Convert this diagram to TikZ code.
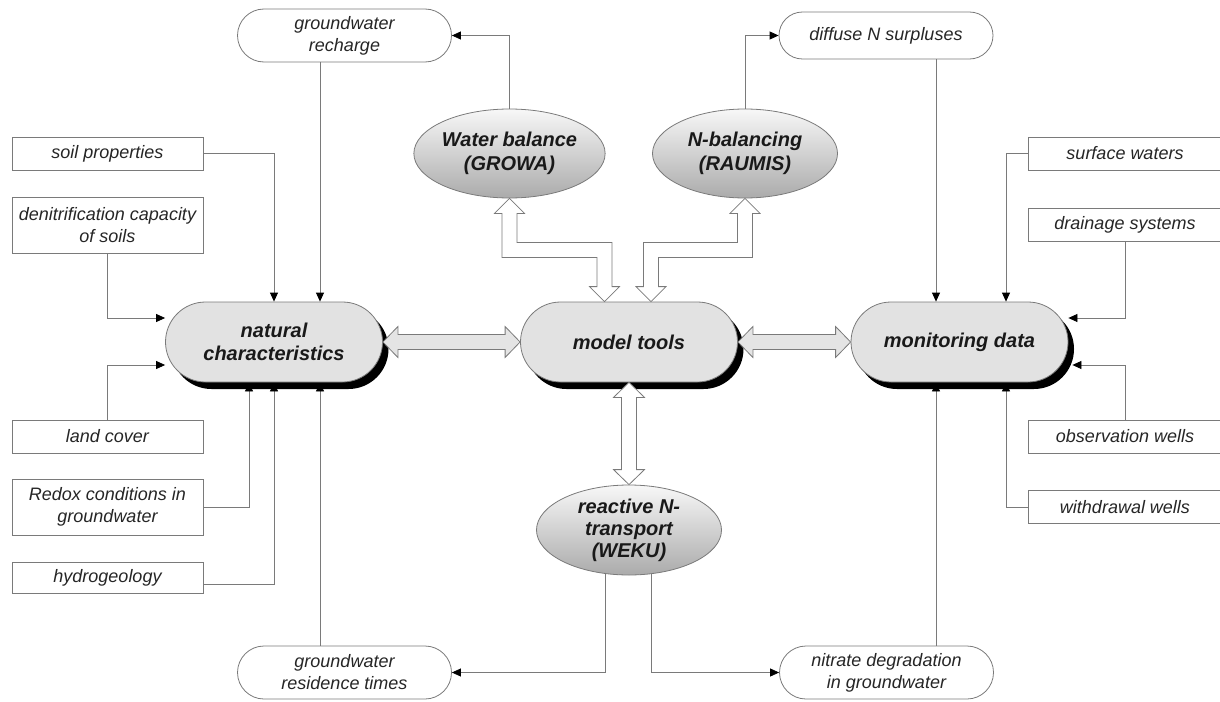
\documentclass[tikz,border=0pt]{standalone}
\usepackage{fontspec}
\setmainfont{Liberation Sans}
\usetikzlibrary{shapes.misc,shapes.geometric,shadows,calc,arrows.meta,backgrounds}

\definecolor{linegray}{HTML}{7A7A7A}
\definecolor{capfill}{HTML}{E2E2E2}
\definecolor{txt}{HTML}{262626}
\definecolor{blockfill}{HTML}{E4E4E4}

\tikzset{
  conn/.style={draw=linegray, line width=0.8pt},
  arr/.style={conn, -{Triangle[length=9pt,width=8pt,black]}},
  boxnode/.style={draw=linegray, line width=0.8pt, fill=white, rectangle, align=center,
    font=\fontsize{18}{22}\selectfont\itshape, text=txt, inner sep=0pt},
  sidebox/.style={boxnode, minimum width=191pt},
  rightbox/.style={boxnode, minimum width=194pt, minimum height=33pt},
  ovalnode/.style={boxnode, rounded rectangle, minimum width=214pt, minimum height=53pt},
  capsule/.style={rounded rectangle, draw=linegray, line width=0.8pt, fill=capfill,
    minimum width=217pt, minimum height=80pt, inner sep=0pt, text=black!90,
    font=\fontsize{20}{23}\selectfont\bfseries\itshape, align=center,
    drop shadow={shadow xshift=6pt, shadow yshift=-7pt, opacity=1, fill=black}},
  ellnode/.style={ellipse, draw=linegray, line width=0.8pt, top color=gray!6, bottom color=gray!66,
    minimum width=185pt, minimum height=89pt, inner sep=0pt, text=black!90,
    font=\fontsize{20}{24}\selectfont\bfseries\itshape, align=center},
  blockarrow/.style={draw=linegray, line width=0.8pt, fill=white, line join=miter},
  hblockarrow/.style={blockarrow, fill=blockfill},
}

% horizontal double block arrow, #1 left tip, #2 right tip
\newcommand\hblock[2]{%
  \filldraw[hblockarrow] let \p1=(#1), \p2=(#2) in
    (\x1,\y1) -- (\x1+15pt,\y1+15.5pt) -- (\x1+15pt,\y1+7.5pt) -- (\x2-15pt,\y1+7.5pt)
    -- (\x2-15pt,\y1+15.5pt) -- (\x2,\y1) -- (\x2-15pt,\y1-15.5pt) -- (\x2-15pt,\y1-7.5pt)
    -- (\x1+15pt,\y1-7.5pt) -- (\x1+15pt,\y1-15.5pt) -- cycle;}
% vertical double block arrow, #1 top tip, #2 bottom tip
\newcommand\vblock[2]{%
  \filldraw[blockarrow] let \p1=(#1), \p2=(#2) in
    (\x1,\y1) -- (\x1+15.5pt,\y1-15pt) -- (\x1+7.5pt,\y1-15pt) -- (\x1+7.5pt,\y2+15pt)
    -- (\x1+15.5pt,\y2+15pt) -- (\x1,\y2) -- (\x1-15.5pt,\y2+15pt) -- (\x1-7.5pt,\y2+15pt)
    -- (\x1-7.5pt,\y1-15pt) -- (\x1-15.5pt,\y1-15pt) -- cycle;}
% bent double block arrow, #1 top tip, #2 bottom tip, #3 sign of the turn (1 or -1)
\newcommand\bentblock[3]{%
  \filldraw[blockarrow] let \p1=(#1), \p2=(#2), \p3=($(#1)!0.5!(#2)$) in
    (\x1,\y1) -- ({\x1+#3*15pt},{\y1-15pt}) -- ({\x1+#3*7.5pt},{\y1-15pt}) -- ({\x1+#3*7.5pt},{\y3+7.5pt})
    -- ({\x2+#3*7.5pt},{\y3+7.5pt}) -- ({\x2+#3*7.5pt},{\y2+15pt}) -- ({\x2+#3*15pt},{\y2+15pt})
    -- (\x2,\y2) -- ({\x2-#3*15pt},{\y2+15pt}) -- ({\x2-#3*7.5pt},{\y2+15pt})
    -- ({\x2-#3*7.5pt},{\y3-7.5pt}) -- ({\x1-#3*7.5pt},{\y3-7.5pt}) -- ({\x1-#3*7.5pt},{\y1-15pt})
    -- ({\x1-#3*15pt},{\y1-15pt}) -- cycle;}

\begin{document}
\begin{tikzpicture}[x=1pt,y=-1pt]
\useasboundingbox (0,0) rectangle (1220,701);

% left input boxes
\node[sidebox, minimum height=33pt] (soil)  at (107.5,153.5) {soil properties};
\node[sidebox, minimum height=56pt] (denit) at (107.5,225)   {denitrification capacity\\of soils};
\node[sidebox, minimum height=33pt] (land)  at (107.5,436.5) {land cover};
\node[sidebox, minimum height=56pt] (redox) at (107.5,507)   {Redox conditions in\\groundwater};
\node[sidebox, minimum height=31pt] (hydro) at (107.5,577.5) {hydrogeology};

% right input boxes (cut by the right edge)
\node[rightbox] (surf)  at (1125,153.5) {surface waters};
\node[rightbox] (drain) at (1125,224.5) {drainage systems};
\node[rightbox] (obs)   at (1125,436.5) {observation wells};
\node[rightbox] (with)  at (1125,507)   {withdrawal wells};

% result ovals
\node[ovalnode] (gwr) at (344.5,35.5)  {groundwater\\recharge};
\node[ovalnode, minimum height=47pt] (dif) at (886,35.5) {diffuse N surpluses};
\node[ovalnode] (res) at (344.5,672.5) {groundwater\\residence times};
\node[ovalnode] (nit) at (886.5,672.5) {nitrate degradation\\in groundwater};

% main capsules
\node[capsule] (nat)   at (274,342)   {natural\\characteristics};
\node[capsule] (model) at (629,342)   {model tools};
\node[capsule] (mon)   at (959.5,342) {monitoring data};

% model ellipses
\node[ellnode] (wb) at (509.5,153.5) {Water balance\\(GROWA)};
\node[ellnode] (nb) at (745,153.5)   {N-balancing\\(RAUMIS)};
\node[ellnode, minimum height=90pt, font=\fontsize{20}{22}\selectfont\bfseries\itshape, inner ysep=-4pt] (rn) at (629,530) {reactive N-\\transport\\(WEKU)};

% helper coordinates
\coordinate (natN2) at ([xshift=46pt]nat.north);
\coordinate (natS1) at ([xshift=-25pt]nat.south);
\coordinate (natS2) at ([xshift=46pt]nat.south);
\coordinate (natW1) at ([yshift=24pt]nat.west);
\coordinate (natW2) at ([yshift=-23pt]nat.west);
\coordinate (monN1) at ([xshift=-23.5pt]mon.north);
\coordinate (monN2) at ([xshift=46.5pt]mon.north);
\coordinate (monS1) at ([xshift=-23.5pt]mon.south);
\coordinate (monS2) at ([xshift=46.5pt]mon.south);
\coordinate (monE1) at ([yshift=24pt]mon.east);
\coordinate (monE2) at ([xshift=4pt,yshift=-23pt]mon.east);
\coordinate (modN1) at ([xshift=-24.5pt]model.north);
\coordinate (modN2) at ([xshift=22pt]model.north);
\coordinate (rnS1)  at ([xshift=-24pt]rn.center);
\coordinate (rnS2)  at ([xshift=22pt]rn.center);
\coordinate (hydroE) at ([yshift=-7pt]hydro.east);

% thin connectors (behind the nodes)
\begin{scope}[on background layer]
  \draw[arr] (soil.east) -| (nat.north);
  \draw[arr] (natN2 |- gwr.south) -- (natN2);
  \draw[arr] (denit.south) |- (natW1);
  \draw[arr] (land.north) |- (natW2);
  \draw[arr] (redox.east) -| (natS1);
  \draw[arr] (hydroE) -| (nat.south);
  \draw[arr] (natS2 |- res.north) -- (natS2);
  \draw[arr] (wb.north) |- (gwr.east);
  \draw[arr] (nb.north) |- (dif.west);
  \draw[arr] (monN1 |- dif.south) -- (monN1);
  \draw[arr] (surf.west) -| (monN2);
  \draw[arr] (drain.south) |- (monE1);
  \draw[arr] (obs.north) |- (monE2);
  \draw[arr] (with.west) -| (monS2);
  \draw[arr] (monS1 |- nit.north) -- (monS1);
  \draw[arr] (rnS1) |- (res.east);
  \draw[arr] (rnS2) |- (nit.west);
\end{scope}

% block arrows
\hblock{nat.east}{model.west}
\hblock{model.east}{mon.west}
\vblock{model.south}{rn.north}
\bentblock{wb.south}{modN1}{1}
\bentblock{nb.south}{modN2}{-1}

\end{tikzpicture}
\end{document}
